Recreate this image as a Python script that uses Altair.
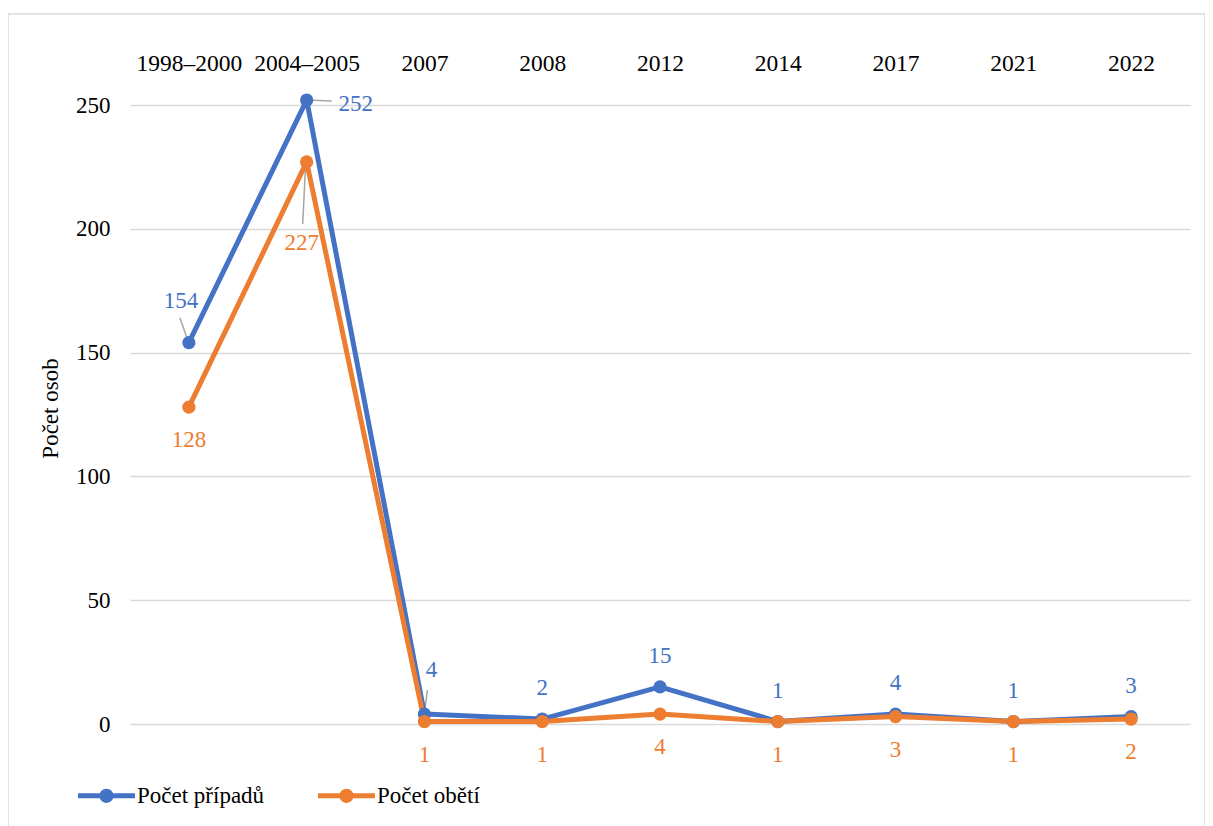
import altair as alt
import pandas as pd

kategorie = ["1998–2000", "2004–2005", "2007", "2008", "2012", "2014", "2017", "2021", "2022"]
serie = ["Počet případů", "Počet obětí"]
pripady = [154, 252, 4, 2, 15, 1, 4, 1, 3]
obeti = [128, 227, 1, 1, 4, 1, 3, 1, 2]
y_ticks = [0, 50, 100, 150, 200, 250]

BLUE = "#4472C4"
ORANGE = "#ED7D31"
FONT = "Liberation Serif"
FS = 23

rows = []
for k, v in zip(kategorie, pripady):
    rows.append({"kategorie": k, "serie": serie[0], "hodnota": v})
for k, v in zip(kategorie, obeti):
    rows.append({"kategorie": k, "serie": serie[1], "hodnota": v})
df = pd.DataFrame(rows)

xenc = alt.X("kategorie:N", sort=kategorie,
             scale=alt.Scale(type="point", padding=0.5),
             axis=alt.Axis(orient="top", title=None, labelAngle=0, domain=False,
                           ticks=False, tickSize=0, grid=False, labelPadding=30,
                           labelFont=FONT, labelFontSize=23.5, labelColor="#000000"))
yenc = alt.Y("hodnota:Q", scale=alt.Scale(domain=[0, 250], nice=False),
             axis=alt.Axis(values=y_ticks, domain=False, ticks=False, tickSize=0,
                           labelPadding=20, gridColor="#D9D9D9", gridWidth=1.3,
                           labelFont=FONT, labelFontSize=FS, labelColor="#000000",
                           title="Počet osob", titleFont=FONT, titleFontSize=FS,
                           titleFontWeight="normal", titleColor="#000000",
                           titleX=-80, titleY=303, titleAngle=270,
                           titleAlign="center", titleBaseline="middle"))
color_scale = alt.Scale(domain=serie, range=[BLUE, ORANGE])

base = alt.Chart(df)

lines = base.mark_line(strokeWidth=5, strokeJoin="round", strokeCap="round").encode(
    x=xenc, y=yenc,
    color=alt.Color("serie:N", scale=color_scale, sort=serie, legend=None),
    detail="serie:N",
)

legend_path = ("M -1 -0.088 H 1 V 0.088 H -1 Z "
               "M 0.25 0 A 0.25 0.25 0 1 1 -0.25 0 A 0.25 0.25 0 1 1 0.25 0 Z")

points = base.mark_point(filled=True, size=175, opacity=1).encode(
    x=xenc, y=yenc,
    color=alt.Color("serie:N", scale=color_scale, sort=serie,
                    legend=alt.Legend(orient="none", direction="horizontal",
                                      legendX=-52, legendY=662, title=None,
                                      symbolType=legend_path, symbolSize=3249,
                                      symbolStrokeWidth=0, symbolOpacity=1,
                                      labelOffset=2, columnPadding=53,
                                      labelFont=FONT, labelFontSize=FS,
                                      labelColor="#000000", labelLimit=400)),
)

# label offsets (pixels) per series; special placements below
special = {
    ("Počet případů", "1998–2000"): (-8, -42),
    ("Počet případů", "2004–2005"): (49, 4),
    ("Počet případů", "2007"): (7, -44),
    ("Počet obětí", "2004–2005"): (-5, 81),
}
default_dy = {"Počet případů": -31, "Počet obětí": 33}
colors = {"Počet případů": BLUE, "Počet obětí": ORANGE}

text_layers = []
for s in serie:
    skip = [k for (ss, k) in special if ss == s]
    f = alt.FieldEqualPredicate(field="serie", equal=s)
    t = base.transform_filter(f).transform_filter(
        ~alt.FieldOneOfPredicate(field="kategorie", oneOf=skip)
    ).mark_text(font=FONT, fontSize=FS, color=colors[s], dy=default_dy[s],
                baseline="middle", align="center").encode(
        x=xenc, y=yenc, text="hodnota:Q")
    text_layers.append(t)
for (s, k), (dx, dy) in special.items():
    t = base.transform_filter(
        (alt.datum.serie == s) & (alt.datum.kategorie == k)
    ).mark_text(font=FONT, fontSize=FS, color=colors[s], dx=dx, dy=dy,
                baseline="middle", align="center").encode(
        x=xenc, y=yenc, text="hodnota:Q")
    text_layers.append(t)

# leader lines
leaders = {
    ("Počet případů", "1998–2000"): (-1, -2, -9, -25),
    ("Počet případů", "2004–2005"): (1, 0, 25, 1),
    ("Počet případů", "2007"): (0, -2, 3, -24),
    ("Počet obětí", "2004–2005"): (-1, 2, -4, 62),
}
leader_layers = []
for (s, k), (xo, yo, x2o, y2o) in leaders.items():
    r = base.transform_filter(
        (alt.datum.serie == s) & (alt.datum.kategorie == k)
    ).mark_rule(color="#A6A6A6", strokeWidth=1.5, xOffset=xo, yOffset=yo,
                x2Offset=x2o, y2Offset=y2o).encode(
        x=xenc, y=yenc, x2=alt.X2("kategorie:N"), y2=alt.Y2("hodnota:Q"))
    leader_layers.append(r)

border = alt.Chart(pd.DataFrame({"a": [0]})).mark_rect(
    fill=None, stroke="#D9D9D9", strokeWidth=1.5).encode(
    x=alt.value(-122), x2=alt.value(1075), y=alt.value(-91), y2=alt.value(722))

chart = alt.layer(border, *leader_layers, lines, points, *text_layers).resolve_legend(
    color="independent"
).properties(
    width=1060, height=619,
    autosize=alt.AutoSizeParams(type="none"),
    padding={"left": 122, "top": 97, "right": 15, "bottom": 102},
).configure(background="white").configure_view(stroke=None)

chart.save("out.html", embed_options={"renderer": "svg", "actions": False})
